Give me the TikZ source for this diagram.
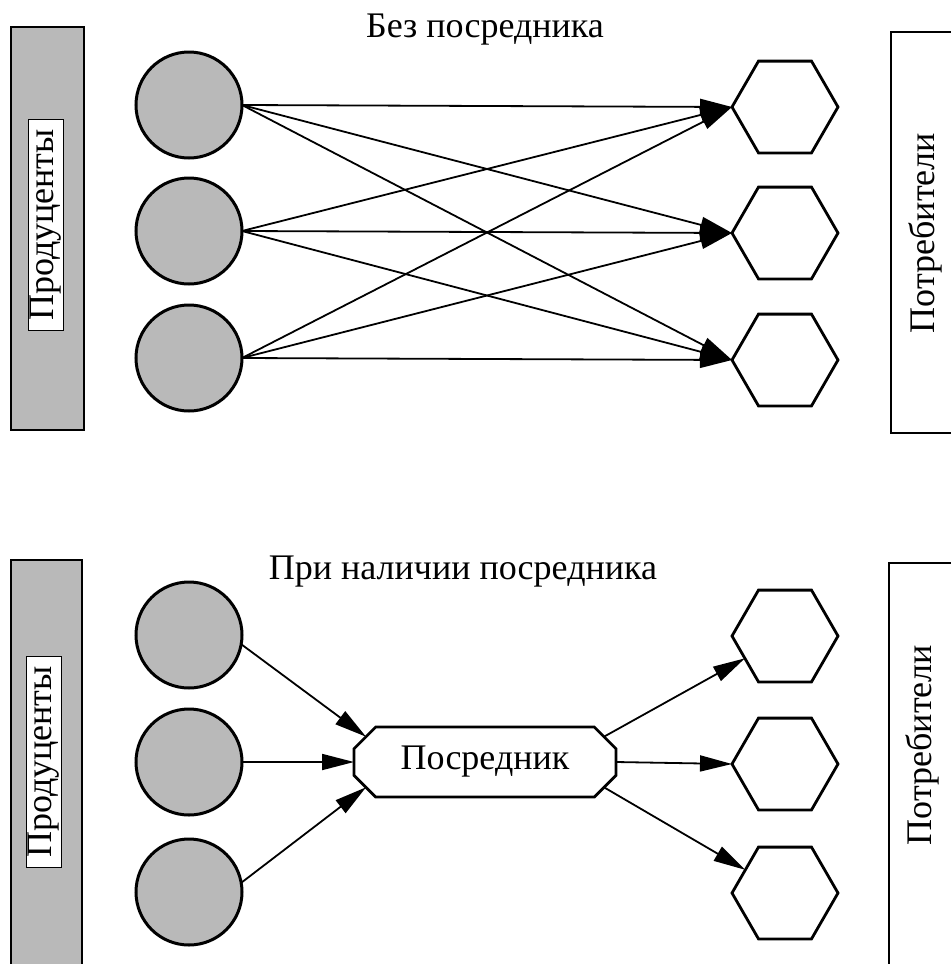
\documentclass[tikz,border=0pt]{standalone}
\usepackage{fontspec}
\setmainfont{Liberation Serif}
\usetikzlibrary{positioning,calc,arrows.meta,shapes.geometric,shapes.misc}
\tikzset{>={Triangle[length=16pt,width=8pt]}}
\tikzset{
  lbl/.style={font=\fontsize{18}{21}\selectfont},
  prod/.style={circle,draw,line width=1.5pt,fill=gray!55,minimum size=53pt,inner sep=0pt,outer sep=0pt},
  cons/.style={regular polygon,regular polygon sides=6,draw,line width=1.4pt,minimum size=53pt,inner sep=0pt,outer sep=0pt},
  flow/.style={->,line width=0.9pt},
  band/.style={draw,line width=0.8pt,fill=gray!55},
  tag/.style={lbl,draw,fill=white,line width=0.6pt,rotate=90,inner xsep=5pt,inner ysep=1pt},
}

\begin{document}
\begin{tikzpicture}[x=0.5pt,y=-0.5pt]
\useasboundingbox (0,0) rectangle (951,964);
% without a middleman
\node[lbl] (titleA) at (485,30) {Без посредника};
\draw[band] (11,27) rectangle (84,430);
\node[tag] (prodA) at (46,225) {Продуценты};
\draw[line width=1.4pt] (891,32) rectangle (975,433);
\node[lbl,rotate=90] (consA) at (925,233) {Потребители};
\node[prod] (pA1) at (189,105) {};
\node[prod] (pA2) at (189,231) {};
\node[prod] (pA3) at (189,358) {};
\node[cons] (cA1) at (785,107) {};
\node[cons] (cA2) at (785,233) {};
\node[cons] (cA3) at (785,360) {};
\foreach \i in {1,2,3}
  \foreach \j in {1,2,3}
    \draw[flow] (pA\i.east) -- (cA\j.west);
% with a middleman
\node[lbl] (titleB) at (463,572) {При наличии посредника};
\draw[band] (11,560) rectangle (82,980);
\node[tag] (prodB) at (44,762) {Продуценты};
\draw[line width=1.4pt] (889,563) rectangle (975,980);
\node[lbl,rotate=90] (consB) at (922,745) {Потребители};
\node[prod] (pB1) at (189,635) {};
\node[prod] (pB2) at (189,762) {};
\node[prod] (pB3) at (189,892) {};
\node[cons] (cB1) at (785,636) {};
\node[cons] (cB2) at (785,764) {};
\node[cons] (cB3) at (785,893) {};
\node[lbl,chamfered rectangle,chamfered rectangle xsep=9pt,draw,line width=1.4pt,
  minimum width=131pt,minimum height=35pt,inner sep=0pt,outer sep=0pt] (mid) at (485,762) {Посредник};
\draw[flow] (pB1.-10) -- (mid.168);
\draw[flow] (pB2.east) -- (mid.west);
\draw[flow] (pB3.10) -- (mid.192);
\draw[flow] (mid.12) -- (cB1);
\draw[flow] (mid.east) -- (cB2.west);
\draw[flow] (mid.-12) -- (cB3);
\end{tikzpicture}
\end{document}
